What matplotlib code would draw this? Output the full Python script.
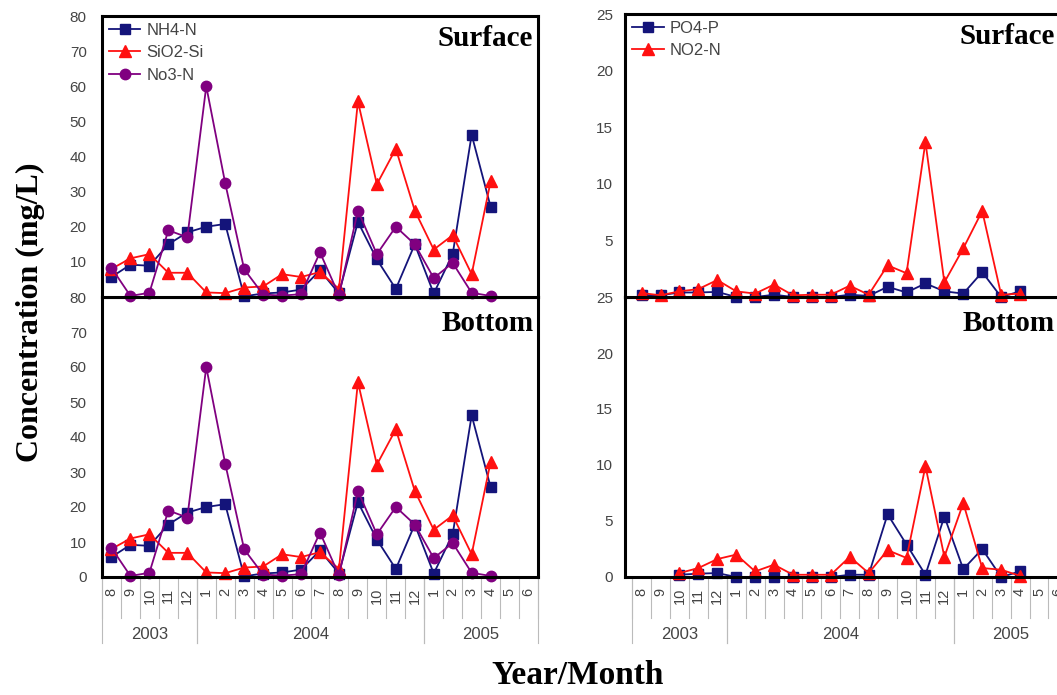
# %%
import numpy as np
import matplotlib.pyplot as plt
from matplotlib.transforms import blended_transform_factory

# %%
months = ['8', '9', '10', '11', '12',
          '1', '2', '3', '4', '5', '6', '7', '8', '9', '10', '11', '12',
          '1', '2', '3', '4', '5', '6']
years = ['2003', '2004', '2005']
year_lengths = [5, 12, 6]

# left panels (same values at surface and bottom)
nh4 = [5.7, 9.2, 8.9, 15.0, 18.4, 20.0, 20.8, 0.2, 1.0, 1.3, 2.1, 7.6, 1.0,
       21.4, 10.7, 2.3, 15.0, 1.0, 12.2, 46.2, 25.7]
sio2 = [8.0, 11.0, 12.2, 6.9, 6.9, 1.3, 1.1, 2.7, 3.0, 6.5, 5.7, 7.1, 2.3,
        55.7, 32.1, 42.2, 24.6, 13.5, 17.6, 6.5, 32.9]
no3 = [8.3, 0.3, 1.2, 19.0, 17.0, 60.0, 32.4, 7.9, 0.7, 0.4, 0.8, 12.7, 0.5,
       24.6, 12.2, 20.0, 15.0, 5.4, 9.7, 1.2, 0.3]

# right panels
po4_surf = [0.15, 0.15, 0.4, 0.4, 0.45, 0.0, 0.0, 0.2, 0.0, 0.0, 0.0, 0.2, 0.1,
            0.9, 0.4, 1.2, 0.5, 0.3, 2.2, 0.0, 0.5]
no2_surf = [0.35, 0.15, 0.5, 0.7, 1.5, 0.5, 0.3, 1.1, 0.15, 0.2, 0.2, 1.0, 0.2,
            2.8, 2.1, 13.7, 1.3, 4.3, 7.6, 0.2, 0.3]
po4_bot = [np.nan, np.nan, 0.2, 0.3, 0.35, 0.0, 0.0, 0.0, 0.0, 0.0, 0.0, 0.2, 0.2,
           5.6, 2.9, 0.2, 5.4, 0.7, 2.5, 0.0, 0.5]
no2_bot = [np.nan, np.nan, 0.35, 0.8, 1.6, 2.0, 0.5, 1.1, 0.2, 0.2, 0.2, 1.8, 0.35,
           2.4, 1.7, 9.9, 1.8, 6.6, 0.8, 0.65, 0.1]

# %%
plt.rcParams['font.family'] = ['Liberation Sans', 'DejaVu Sans']
NAVY, RED, PURPLE = '#14147a', '#ff1010', '#800080'
TXT = '#444444'
SERIF = 'Liberation Serif'

fig = plt.figure(figsize=(10.57, 6.95), dpi=100)
W, H = 1057, 695


def make_ax(x0, x1, y0, y1, zorder):
    return fig.add_axes([x0 / W, 1 - y1 / H, (x1 - x0) / W, (y1 - y0) / H],
                        zorder=zorder)


axLT = make_ax(102, 538, 16, 297, 3)
axLB = make_ax(102, 538, 297, 577, 2)
axRT = make_ax(625.5, 1074, 14, 297, 3)
axRB = make_ax(625.5, 1074, 297, 577, 2)

x = np.arange(len(nh4))
sty = dict(lw=1.3, clip_on=False)

for ax in (axLT, axLB):
    ax.plot(x, nh4, color=NAVY, marker='s', ms=6.5, label='NH4-N', **sty)
    ax.plot(x, sio2, color=RED, marker='^', ms=8, label='SiO2-Si', **sty)
    ax.plot(x, no3, color=PURPLE, marker='o', ms=7.5, label='No3-N', **sty)
    ax.set_xlim(-0.5, 22.5)
    ax.set_ylim(0, 80)

axLT.set_yticks(np.arange(10, 81, 10))
axLB.set_yticks(np.arange(0, 81, 10))

axRT.plot(x, po4_surf, color=NAVY, marker='s', ms=6.5, label='PO4-P', **sty)
axRT.plot(x, no2_surf, color=RED, marker='^', ms=8, label='NO2-N', **sty)
axRB.plot(x, po4_bot, color=NAVY, marker='s', ms=6.5, **sty)
axRB.plot(x, no2_bot, color=RED, marker='^', ms=8, **sty)
for ax in (axRT, axRB):
    ax.set_xlim(-0.85, 22.85)
    ax.set_ylim(0, 25)
axRT.set_yticks(np.arange(5, 26, 5))
axRB.set_yticks(np.arange(0, 26, 5))

for ax in (axLT, axLB, axRT, axRB):
    for s in ax.spines.values():
        s.set_linewidth(2.2)
        s.set_color('black')
    ax.tick_params(axis='y', length=0, pad=11 if ax in (axLT, axLB) else 9,
                   labelsize=11, labelcolor=TXT)

for ax in (axLT, axRT):
    ax.set_xticks([])
    ax.legend(loc='upper left', bbox_to_anchor=(0, 1), borderaxespad=0,
              borderpad=0.4, frameon=False, fontsize=12, handlelength=1.9,
              handletextpad=0.35, labelspacing=0.45, labelcolor=TXT)

# month / year axis under the bottom panels
for ax in (axLB, axRB):
    ax.set_xticks(range(len(months)))
    ax.set_xticklabels(months, rotation=90, fontsize=10.5, color=TXT)
    ax.tick_params(axis='x', length=0, pad=8)
    tr = blended_transform_factory(ax.transData, ax.transAxes)
    edges = np.arange(len(months) + 1) - 0.5
    for e in edges:
        ax.plot([e, e], [0, -0.148], color='#bbbbbb', lw=0.8,
                transform=tr, clip_on=False)
    start = 0
    for yr, n in zip(years, year_lengths):
        for e in (start - 0.5, start + n - 0.5):
            ax.plot([e, e], [0, -0.235], color='#bbbbbb', lw=0.8,
                    transform=tr, clip_on=False)
        ax.text(start + (n - 1) / 2, -0.205, yr, transform=tr, ha='center',
                va='center', fontsize=12, color=TXT)
        start += n

# panel titles
for ax, xt, name, yt in [(axLT, 22.25, 'Surface', 0.92), (axLB, 22.25, 'Bottom', 0.907),
                         (axRT, 21.85, 'Surface', 0.92), (axRB, 21.85, 'Bottom', 0.907)]:
    tr = blended_transform_factory(ax.transData, ax.transAxes)
    ax.text(xt, yt, name, transform=tr, ha='right', va='center',
            family=SERIF, weight='bold', fontsize=21)

fig.text(30 / W, 1 - 312 / H, 'Concentration (mg/L)', rotation=90,
         ha='center', va='center', family=SERIF, weight='bold', fontsize=23)
fig.text(578 / W, 1 - 676 / H, 'Year/Month', ha='center', va='center',
         family=SERIF, weight='bold', fontsize=24)

plt.savefig('out.png', dpi=100, facecolor='white')
